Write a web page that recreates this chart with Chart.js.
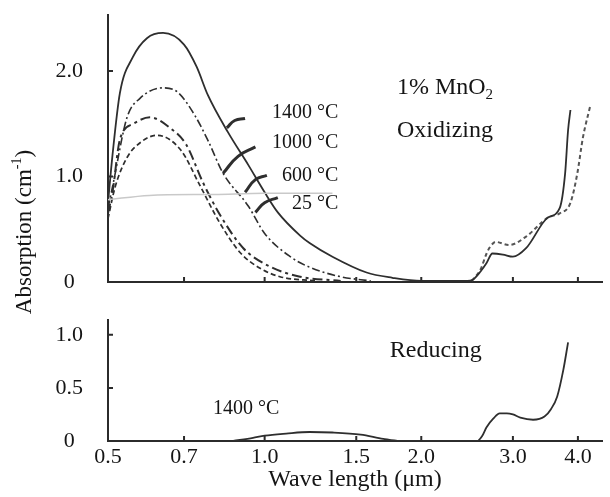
<!DOCTYPE html>
<html>
<head>
<meta charset="utf-8">
<script src="https://cdn.jsdelivr.net/npm/chart.js@4.4.1/dist/chart.umd.min.js"></script>
<style>
html, body { margin: 0; padding: 0; background: #fff; }
#wrap { position: relative; width: 610px; height: 497px; }
#wrap canvas { position: absolute; left: 0; top: 0; }
</style>
</head>
<body>
<div id="wrap">
<canvas id="Oxidizing_Plot" width="610" height="497"></canvas>
<canvas id="Reducing_Plot" width="610" height="497"></canvas>
</div>
<script>

// Axis ticks
const wl_ticks = [0.5, 0.7, 1.0, 1.5, 2.0, 3.0, 4.0];
const oxid_y_ticks = [0, 1.0, 2.0];
const red_y_ticks = [0, 0.5, 1.0];

const wl_min = 0.5;
const wl_max = 4.45;
const oxid_y_max = 2.53;
const red_y_max = 1.14;

// Oxidizing curves (wave length in um, absorption in 1/cm)
const wl_1400 = [0.50, 0.51, 0.527, 0.558, 0.594, 0.638, 0.70, 0.74, 0.778, 0.85, 0.93, 1.0, 1.06, 1.17, 1.22, 1.35, 1.57, 1.76, 2.0, 2.45, 2.51, 2.6, 2.67, 2.74, 2.87, 3.0, 3.18, 3.5, 3.69, 3.78, 3.83, 3.87];
const abs_1400 = [0.75, 1.2, 1.79, 2.13, 2.31, 2.36, 2.25, 2.04, 1.77, 1.42, 1.11, 0.85, 0.66, 0.44, 0.37, 0.24, 0.09, 0.04, 0.01, 0.01, 0.02, 0.1, 0.18, 0.27, 0.26, 0.24, 0.32, 0.61, 0.70, 1.03, 1.44, 1.63];

const wl_1000 = [0.50, 0.51, 0.544, 0.576, 0.638, 0.68, 0.734, 0.78, 0.832, 0.93, 1.0, 1.12, 1.22, 1.4, 1.6];
const abs_1000 = [0.7, 0.9, 1.56, 1.74, 1.84, 1.80, 1.58, 1.33, 1.03, 0.72, 0.46, 0.24, 0.14, 0.05, 0.01];

const wl_600 = [0.50, 0.51, 0.527, 0.56, 0.602, 0.658, 0.707, 0.76, 0.82, 0.91, 1.02, 1.17, 1.4];
const abs_600 = [0.65, 0.85, 1.35, 1.50, 1.56, 1.46, 1.30, 0.95, 0.64, 0.32, 0.15, 0.05, 0.01];

const wl_25 = [0.50, 0.516, 0.544, 0.58, 0.621, 0.69, 0.75, 0.82, 0.897, 0.98, 1.07, 1.25];
const abs_25 = [0.6, 0.9, 1.18, 1.33, 1.39, 1.25, 0.92, 0.56, 0.28, 0.13, 0.05, 0.01];

// dashed infrared branch
const wl_ir_dash = [2.5, 2.6, 2.67, 2.71, 2.78, 2.95, 3.18, 3.5, 3.69, 3.87, 3.99, 4.09, 4.22];
const abs_ir_dash = [0.01, 0.12, 0.27, 0.33, 0.38, 0.35, 0.43, 0.61, 0.65, 0.75, 1.03, 1.37, 1.66];

// faint grey trace
const wl_faint = [0.5, 0.6, 0.8, 1.0, 1.35];
const abs_faint = [0.78, 0.82, 0.83, 0.84, 0.84];

// leader marks from the labels to the curves
const wl_lead_1400 = [0.917, 0.876, 0.846];
const abs_lead_1400 = [1.55, 1.53, 1.46];
const wl_lead_1000 = [0.96, 0.889, 0.832];
const abs_lead_1000 = [1.28, 1.19, 1.03];
const wl_lead_600 = [1.01, 0.96, 0.917];
const abs_lead_600 = [1.01, 0.97, 0.85];
const wl_lead_25 = [1.06, 1.0, 0.96];
const abs_lead_25 = [0.80, 0.75, 0.66];

// Reducing curve
const wl_red = [0.87, 0.95, 1.0, 1.1, 1.22, 1.35, 1.53, 1.69, 1.82, 2.56, 2.62, 2.67, 2.75, 2.83, 2.92, 3.0, 3.1, 3.28, 3.45, 3.55, 3.65, 3.75, 3.83];
const abs_red = [0, 0.03, 0.05, 0.07, 0.085, 0.08, 0.06, 0.02, 0, 0, 0.05, 0.13, 0.21, 0.26, 0.26, 0.25, 0.22, 0.2, 0.23, 0.3, 0.42, 0.67, 0.93];

// Text
const temp_labels = ["1400 \u00B0C", "1000 \u00B0C", "600 \u00B0C", "25 \u00B0C"];
const y_title = "Absorption (cm";
const x_title = "Wave length (\u03BCm)";

const axis_color = "#2b2b2b";
const text_color = "#151515";
const line_color = "#2e2e2e";
const serif = "'Liberation Serif', 'Times New Roman', serif";

Chart.defaults.font.family = serif;
Chart.defaults.color = text_color;


function pts(xs, ys) {
	return xs.map((x, i) => ({x: x, y: ys[i]}));
}

function curve(xs, ys, dash, width, color) {
	return {
		data: pts(xs, ys),
		borderColor: color || line_color,
		borderWidth: width || 1.8,
		borderDash: dash || [],
		pointRadius: 0,
		fill: false,
		cubicInterpolationMode: 'monotone',
	};
}

function leader(xs, ys) {
	return {
		data: pts(xs, ys),
		borderColor: line_color,
		borderWidth: 3,
		pointRadius: 0,
		fill: false,
		tension: 0.5,
	};
}

// small tick marks that point into the plot
const inner_ticks = {
	id: 'inner_ticks',
	afterDraw(chart) {
		const ctx = chart.ctx;
		const xs = chart.scales.x;
		const ys = chart.scales.y;
		const area = chart.chartArea;
		ctx.save();
		ctx.strokeStyle = axis_color;
		ctx.lineWidth = 2;
		ctx.beginPath();
		wl_ticks.slice(1).forEach(v => {
			const px = xs.getPixelForValue(v);
			ctx.moveTo(px, area.bottom);
			ctx.lineTo(px, area.bottom - 5);
		});
		ys.ticks.forEach(t => {
			if (t.value === 0) return;
			const py = ys.getPixelForValue(t.value);
			ctx.moveTo(area.left, py);
			ctx.lineTo(area.left + 5, py);
		});
		ctx.stroke();
		ctx.restore();
	}
};

// labels for the top panel + shared y title
const oxid_text = {
	id: 'oxid_text',
	afterDraw(chart) {
		const ctx = chart.ctx;
		const xs = chart.scales.x;
		const ys = chart.scales.y;
		ctx.save();
		ctx.fillStyle = text_color;
		ctx.textBaseline = 'middle';

		ctx.font = "20px " + serif;
		ctx.textAlign = 'right';
		const label_abs = [1.60, 1.32, 1.01, 0.74];
		temp_labels.forEach((t, i) => {
			ctx.fillText(t, xs.getPixelForValue(1.385), ys.getPixelForValue(label_abs[i]));
		});

		ctx.textAlign = 'left';
		ctx.font = "24px " + serif;
		const lx = xs.getPixelForValue(1.796);
		const ly = ys.getPixelForValue(1.84);
		ctx.fillText("1% MnO", lx, ly);
		const w = ctx.measureText("1% MnO").width;
		ctx.font = "15px " + serif;
		ctx.fillText("2", lx + w, ly + 7);
		ctx.font = "24px " + serif;
		ctx.fillText("Oxidizing", lx, ys.getPixelForValue(1.43));

		// y axis title spanning both panels
		ctx.translate(31, 232);
		ctx.rotate(-Math.PI / 2);
		ctx.textBaseline = 'alphabetic';
		ctx.font = "23px " + serif;
		const w1 = ctx.measureText(y_title).width;
		ctx.font = "14px " + serif;
		const w2 = ctx.measureText("-1").width;
		ctx.font = "23px " + serif;
		const w3 = ctx.measureText(")").width;
		let x0 = -(w1 + w2 + w3) / 2;
		ctx.fillText(y_title, x0, 0);
		ctx.font = "14px " + serif;
		ctx.fillText("-1", x0 + w1, -10);
		ctx.font = "23px " + serif;
		ctx.fillText(")", x0 + w1 + w2, 0);
		ctx.restore();
	}
};

const red_text = {
	id: 'red_text',
	afterDraw(chart) {
		const ctx = chart.ctx;
		const xs = chart.scales.x;
		const ys = chart.scales.y;
		ctx.save();
		ctx.fillStyle = text_color;
		ctx.textBaseline = 'middle';
		ctx.textAlign = 'left';
		ctx.font = "24px " + serif;
		ctx.fillText("Reducing", xs.getPixelForValue(1.74), ys.getPixelForValue(0.85));
		ctx.font = "20px " + serif;
		ctx.fillText(temp_labels[0], xs.getPixelForValue(0.796), ys.getPixelForValue(0.30));
		ctx.restore();
	}
};

function tick_label(v) {
	return v === 0 ? "0" : Number(v).toFixed(1);
}


// Oxidizing panel
var Oxidizing_Plot_Obj = new Chart(document.getElementById("Oxidizing_Plot").getContext("2d"), {
	type: "line",
	data: {
		datasets: [
			curve(wl_faint, abs_faint, [], 1.5, "#c9c9c9"),
			curve(wl_25, abs_25, [5, 3], 1.7),
			curve(wl_600, abs_600, [10, 4, 3, 4], 2.0),
			curve(wl_1000, abs_1000, [8, 3, 2, 3], 1.6),
			curve(wl_1400, abs_1400, [], 1.8),
			curve(wl_ir_dash, abs_ir_dash, [4, 3], 2.0, "#555"),
			leader(wl_lead_1400, abs_lead_1400),
			leader(wl_lead_1000, abs_lead_1000),
			leader(wl_lead_600, abs_lead_600),
			leader(wl_lead_25, abs_lead_25),
		]
	},
	options: {
		responsive: false,
		animation: false,
		events: [],
		layout: { padding: { left: 0, right: 8, top: 15, bottom: 215 } },
		plugins: { legend: { display: false }, tooltip: { enabled: false } },
		scales: {
			x: {
				type: 'logarithmic',
				min: wl_min,
				max: wl_max,
				afterBuildTicks: s => { s.ticks = wl_ticks.map(v => ({value: v})); },
				afterFit: s => { s.height = 0; s.paddingLeft = 0; s.paddingRight = 0; },
				grid: { display: false, drawTicks: false },
				border: { display: true, color: axis_color, width: 2 },
				ticks: { display: false },
			},
			y: {
				min: 0,
				max: oxid_y_max,
				afterBuildTicks: s => { s.ticks = oxid_y_ticks.map(v => ({value: v})); },
				afterFit: s => { s.width = 108; s.paddingTop = 0; s.paddingBottom = 0; },
				grid: { display: false, drawTicks: false },
				border: { display: true, color: axis_color, width: 2 },
				ticks: { font: { size: 22 }, padding: 25, crossAlign: 'center', callback: tick_label },
			}
		}
	},
	plugins: [inner_ticks, oxid_text]
});


// Reducing panel
var Reducing_Plot_Obj = new Chart(document.getElementById("Reducing_Plot").getContext("2d"), {
	type: "line",
	data: {
		datasets: [
			curve(wl_red, abs_red, [], 1.8),
		]
	},
	options: {
		responsive: false,
		animation: false,
		events: [],
		layout: { padding: { left: 0, right: 8, top: 320, bottom: 0 } },
		plugins: { legend: { display: false }, tooltip: { enabled: false } },
		scales: {
			x: {
				type: 'logarithmic',
				min: wl_min,
				max: wl_max,
				afterBuildTicks: s => { s.ticks = wl_ticks.map(v => ({value: v})); },
				afterFit: s => { s.height = 56; s.paddingLeft = 0; s.paddingRight = 0; },
				grid: { display: false, drawTicks: false },
				border: { display: true, color: axis_color, width: 2 },
				ticks: { font: { size: 22 }, padding: 3, maxRotation: 0, autoSkip: false, callback: tick_label },
				title: { display: true, text: x_title, font: { size: 24 }, padding: { top: 0, bottom: 3 } },
			},
			y: {
				min: 0,
				max: red_y_max,
				afterBuildTicks: s => { s.ticks = red_y_ticks.map(v => ({value: v})); },
				afterFit: s => { s.width = 108; s.paddingTop = 0; s.paddingBottom = 0; },
				grid: { display: false, drawTicks: false },
				border: { display: true, color: axis_color, width: 2 },
				ticks: { font: { size: 22 }, padding: 25, crossAlign: 'center', callback: tick_label },
			}
		}
	},
	plugins: [inner_ticks, red_text]
});

</script>
</body>
</html>
